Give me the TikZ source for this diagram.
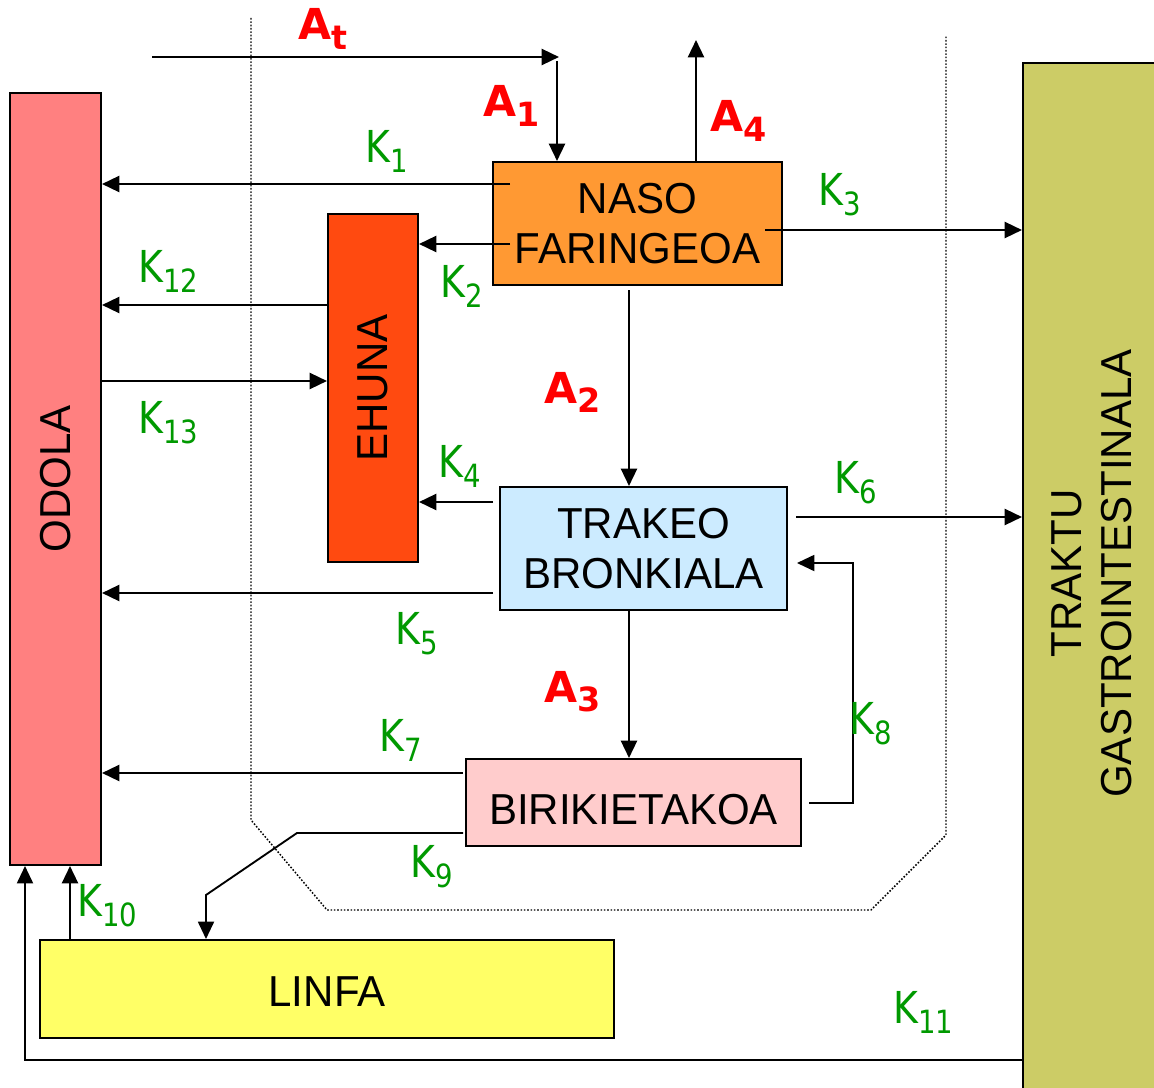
\documentclass[tikz,border=0pt]{standalone}
\usepackage{fontspec}
\usetikzlibrary{arrows.meta}
\newfontfamily\boxfont[FakeStretch=0.97]{Liberation Sans}
\newfontfamily\kfont[FakeStretch=0.86]{DejaVu Sans}
\newfontfamily\afont{DejaVu Sans}
\definecolor{odolac}{HTML}{FF8080}
\definecolor{ehunac}{HTML}{FF4A10}
\definecolor{nasoc}{HTML}{FF9933}
\definecolor{trakc}{HTML}{CCEBFF}
\definecolor{birikc}{HTML}{FFCCCC}
\definecolor{linfac}{HTML}{FFFF66}
\definecolor{gic}{HTML}{CCCC66}
\definecolor{kgreen}{HTML}{009900}
\definecolor{ared}{HTML}{FF0000}
\newcommand\KL[1]{K\raisebox{-8pt}{\fontsize{24}{26}\selectfont #1}}
\newcommand\AL[1]{A\raisebox{-7pt}{\fontsize{25}{26}\selectfont #1}}
\begin{document}
\begin{tikzpicture}[x=0.75pt,y=-0.75pt,
  box/.style={draw=black, line width=1.5pt, inner sep=0pt, align=center,
    font=\boxfont\fontsize{32.5}{37.5}\selectfont},
  arr/.style={-{Triangle[length=13pt,width=12pt]}, line width=1.8pt},
  thinarr/.style={-{Triangle[length=13pt,width=12pt]}, line width=1.4pt},
  klab/.style={inner sep=0pt, anchor=base west, text=kgreen,
    font=\kfont\fontsize{33}{36}\selectfont},
  alab/.style={inner sep=0pt, anchor=base west, text=ared,
    font=\afont\bfseries\fontsize{32}{36}\selectfont},
  border/.style={line width=1.1pt, dash pattern=on 1.2pt off 1.3pt}]
\useasboundingbox (0,0) rectangle (1154,1088);
\clip (0,0) rectangle (1154,1088);
\fill[white] (0,0) rectangle (1154,1088);
% dotted boundary
\draw[border] (251,18) -- (251,820) -- (327,910) -- (871,910) -- (946,835) -- (946,35);
% boxes
\node[box, fill=odolac, minimum width=68.25pt, minimum height=579pt] (odola) at (55.5,479) {\rotatebox{90}{ODOLA}};
\node[box, fill=ehunac, minimum width=67.5pt, minimum height=261pt] (ehuna) at (373,388) {\rotatebox{90}{EHUNA}};
\node[box, fill=nasoc, minimum width=216.75pt, minimum height=92.25pt] (naso) at (637.5,223.5) {NASO\\FARINGEOA};
\node[box, fill=trakc, minimum width=215.25pt, minimum height=92.25pt] (trakeo) at (643.5,548.5) {TRAKEO\\BRONKIALA};
\node[box, fill=birikc, minimum width=251.25pt, minimum height=65.25pt] (birik) at (633.5,802.5) {\raisebox{0pt}[\dimexpr\height+10pt\relax][0pt]{BIRIKIETAKOA}};
\node[box, fill=linfac, minimum width=430.5pt, minimum height=73.5pt] (linfa) at (327,989) {\raisebox{0pt}[\dimexpr\height+4pt\relax][0pt]{LINFA}};
\node[box, fill=gic, minimum width=110.25pt, minimum height=777.75pt] (gi) at (1096.5,581.5) {\rotatebox{90}{\hspace*{12pt}\begin{tabular}{@{}c@{}}TRAKTU\\GASTROINTESTINALA\end{tabular}}};
% coordinates
\coordinate (at0) at (152,57);
\coordinate (at1) at (559,57);
\coordinate (a1s) at (557,61);
\coordinate (a4e) at (696,40);
\coordinate (k1s) at (510,184);
\coordinate (k2s) at (510,244);
\coordinate (k3s) at (765,230);
\coordinate (k12) at (0,305);
\coordinate (k13) at (0,381);
\coordinate (a2s) at (629,290);
\coordinate (k4s) at (493,502);
\coordinate (k5s) at (493,593);
\coordinate (k6s) at (796,517);
\coordinate (a3s) at (629,0);
\coordinate (k7s) at (463,773);
\coordinate (k8s) at (809,803);
\coordinate (k8c) at (853,563);
\coordinate (k8e) at (797,563);
\coordinate (k9s) at (463,833);
\coordinate (k9a) at (297,833);
\coordinate (k9b) at (206,895);
\coordinate (k10) at (70,0);
\coordinate (k11) at (25,1060);
% connectors
\draw[arr] (at0) -- (at1);
\draw[arr] (a1s) -- (a1s |- naso.north);
\draw[arr] (a4e |- naso.north) -- (a4e);
\draw[arr] (k1s) -- (odola.east |- k1s);
\draw[arr] (k2s) -- (ehuna.east |- k2s);
\draw[arr] (k3s) -- (gi.west |- k3s);
\draw[arr] (ehuna.west |- k12) -- (odola.east |- k12);
\draw[arr] (odola.east |- k13) -- (ehuna.west |- k13);
\draw[arr] (a2s) -- (a2s |- trakeo.north);
\draw[arr] (k4s) -- (ehuna.east |- k4s);
\draw[arr] (k5s) -- (odola.east |- k5s);
\draw[arr] (k6s) -- (gi.west |- k6s);
\draw[arr] (a3s |- trakeo.south) -- (a3s |- birik.north);
\draw[arr] (k7s) -- (odola.east |- k7s);
\draw[thinarr] (k8s) -- (k8c |- k8s) -- (k8c) -- (k8e);
\draw[thinarr] (k9s) -- (k9a) -- (k9b) -- (k9b |- linfa.north);
\draw[arr] (k10 |- linfa.north) -- (k10 |- odola.south);
\draw[thinarr] (gi.west |- k11) -- (k11) -- (k11 |- odola.south);
% labels
\node[alab] (lat) at (298,40) {\AL{t}};
\node[alab] (la1) at (483,117) {\AL{1}};
\node[alab] (la4) at (710,132) {\AL{4}};
\node[alab] (la2) at (544,403) {\AL{2}};
\node[alab] (la3) at (544,702) {\AL{3}};
\node[klab] (lk1) at (365,162) {\KL{1}};
\node[klab] (lk12) at (138,282) {\KL{12}};
\node[klab] (lk2) at (440,297) {\KL{2}};
\node[klab] (lk3) at (818,205) {\KL{3}};
\node[klab] (lk13) at (138,433) {\KL{13}};
\node[klab] (lk4) at (438,477) {\KL{4}};
\node[klab] (lk5) at (395,644) {\KL{5}};
\node[klab] (lk6) at (834,493) {\KL{6}};
\node[klab] (lk8) at (849,734) {\KL{8}};
\node[klab] (lk7) at (379,751) {\KL{7}};
\node[klab] (lk9) at (410,877) {\KL{9}};
\node[klab] (lk10) at (77,916) {\KL{10}};
\node[klab] (lk11) at (893,1023) {\KL{11}};
\end{tikzpicture}
\end{document}
